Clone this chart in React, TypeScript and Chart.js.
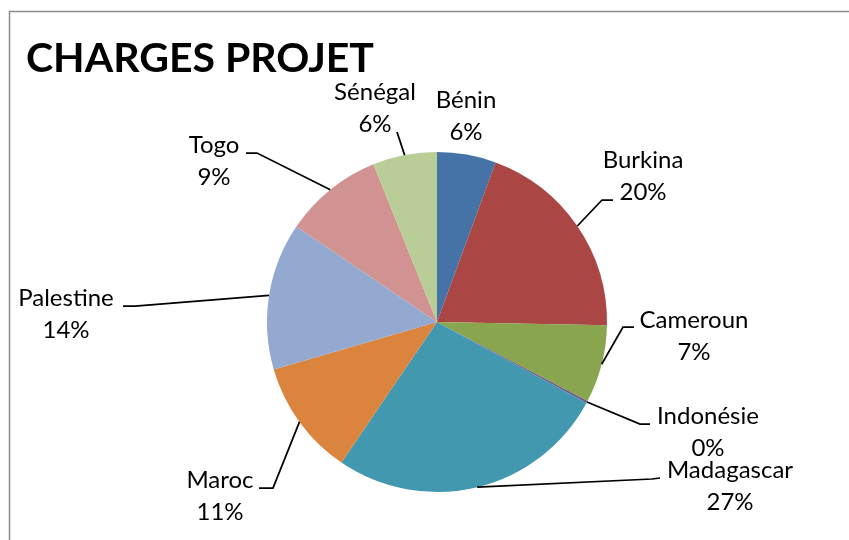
import React, { useEffect, useRef } from "react";
import { Chart, registerables } from "chart.js";

Chart.register(...registerables);

const TITLE = "CHARGES PROJET";
const categories = ["Bénin", "Burkina", "Cameroun", "Indonésie", "Madagascar", "Maroc", "Palestine", "Togo", "Sénégal"];
const values = [5.6, 19.7, 7.4, 0.2, 26.6, 11.0, 14.0, 9.4, 6.1];
const colors = ["#4572A7", "#AA4643", "#89A54E", "#71588F", "#4198AF", "#DB843D", "#93A9CF", "#D19392", "#B9CD96"];

// Label layout (text centre x, first baseline y, leader elbow and end points)
const LABEL_LAYOUT: { x: number; y: number; elbow: number[] | null; end: number[] | null }[] = [
  { x: 466, y: 108, elbow: null, end: null },
  { x: 643, y: 168, elbow: [602, 200], end: [613, 200] },
  { x: 694, y: 328, elbow: [623, 327], end: [634, 327] },
  { x: 708, y: 424, elbow: [640, 424], end: [650, 424] },
  { x: 730, y: 478, elbow: [652, 479], end: [660, 478] },
  { x: 220, y: 488, elbow: [273, 488], end: [259, 488] },
  { x: 66, y: 306, elbow: [135, 306], end: [123, 306] },
  { x: 214, y: 153, elbow: [257, 153], end: [246, 153] },
  { x: 375, y: 100, elbow: [397, 132], end: null },
];

const FONT_FAMILY = "Lato, 'Open Sans', sans-serif";

const decorPlugin = {
  id: "decor",
  afterDraw(chart: any) {
    const ctx = chart.ctx as CanvasRenderingContext2D;
    const total = values.reduce((a, b) => a + b, 0);
    ctx.save();
    // frame
    ctx.strokeStyle = "#8a8a8a";
    ctx.lineWidth = 1.5;
    ctx.beginPath();
    ctx.moveTo(9.5, 545);
    ctx.lineTo(9.5, 11.5);
    ctx.lineTo(860, 11.5);
    ctx.stroke();
    // title
    ctx.fillStyle = "#000";
    ctx.font = `bold 41px ${FONT_FAMILY}`;
    ctx.textAlign = "left";
    ctx.textBaseline = "alphabetic";
    ctx.fillText(TITLE, 26, 72);
    // labels
    const meta = chart.getDatasetMeta(0);
    ctx.font = `24px ${FONT_FAMILY}`;
    ctx.textAlign = "center";
    meta.data.forEach((arc: any, i: number) => {
      const p = arc.getProps(["x", "y", "startAngle", "endAngle", "outerRadius"], true);
      const mid = (p.startAngle + p.endAngle) / 2;
      const ax = p.x + Math.cos(mid) * p.outerRadius;
      const ay = p.y + Math.sin(mid) * p.outerRadius;
      const L = LABEL_LAYOUT[i];
      if (L.elbow) {
        ctx.strokeStyle = "#000";
        ctx.lineWidth = 1.75;
        ctx.beginPath();
        ctx.moveTo(ax, ay);
        ctx.lineTo(L.elbow[0], L.elbow[1]);
        if (L.end) ctx.lineTo(L.end[0], L.end[1]);
        ctx.stroke();
      }
      const pct = Math.round((values[i] / total) * 100) + "%";
      ctx.fillStyle = "#000";
      ctx.fillText(categories[i], L.x, L.y);
      ctx.fillText(pct, L.x, L.y + 32);
    });
    ctx.restore();
  },
};

export default function App() {
  const ref = useRef<HTMLCanvasElement>(null);
  useEffect(() => {
    document.body.style.margin = "0";
    const chart = new Chart(ref.current!, {
      type: "pie",
      data: {
        labels: categories,
        datasets: [
          {
            data: values,
            backgroundColor: colors,
            borderWidth: 0,
          },
        ],
      },
      options: {
        responsive: false,
        animation: false,
        layout: { padding: { left: 267, right: 242, top: 152, bottom: 48 } },
        plugins: {
          legend: { display: false },
          tooltip: { enabled: false },
          title: { display: false },
        },
      },
      plugins: [decorPlugin],
    });
    return () => chart.destroy();
  }, []);
  return (
    <div style={{ position: "fixed", left: 0, top: 0, width: 849, height: 540, background: "#fff" }}>
      <canvas ref={ref} width={849} height={540} />
    </div>
  );
}
